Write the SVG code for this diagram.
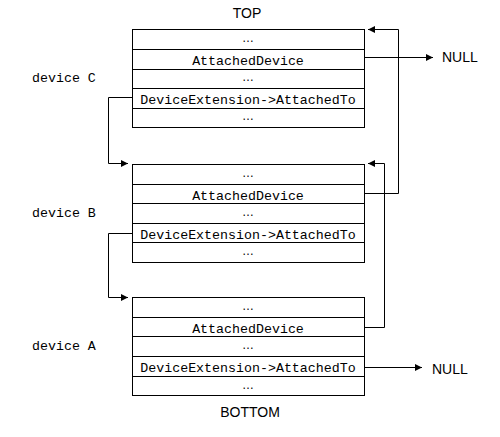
<svg xmlns="http://www.w3.org/2000/svg" width="500" height="437" viewBox="0 0 500 437">
<defs>
<marker id="ah" viewBox="0 0 10 10" refX="10" refY="5" markerWidth="9" markerHeight="7" markerUnits="userSpaceOnUse" orient="auto">
<path d="M0,0 L10,5 L0,10 z" fill="#000"/>
</marker>
</defs>
<style>
.box{fill:#fff;stroke:#000;stroke-width:1}
.row{stroke:#000;stroke-width:1}
.mono{font-family:"Liberation Mono","DejaVu Sans Mono",monospace;font-size:13.3px;fill:#000}
.ctr{text-anchor:middle}
.sans{font-family:"Liberation Sans",Arial,sans-serif;font-size:14px;fill:#000}
.dots{font-family:"Liberation Sans",Arial,sans-serif;font-size:12px;fill:#000;text-anchor:middle}
.con{fill:none;stroke:#000;stroke-width:1}
</style>
<rect width="500" height="437" fill="#fff"/>
<text class="sans ctr" x="247" y="18">TOP</text>
<text class="sans ctr" x="250" y="417">BOTTOM</text>

<g id="deviceC">
<rect class="box" x="132.5" y="29.5" width="232" height="98"/>
<line class="row" x1="132.5" y1="49.5" x2="364.5" y2="49.5"/>
<line class="row" x1="132.5" y1="69.5" x2="364.5" y2="69.5"/>
<line class="row" x1="132.5" y1="88.5" x2="364.5" y2="88.5"/>
<line class="row" x1="132.5" y1="108.5" x2="364.5" y2="108.5"/>
<text class="dots" x="248" y="42">…</text>
<text class="mono ctr" x="248" y="65">AttachedDevice</text>
<text class="dots" x="248" y="81">…</text>
<text class="mono ctr" x="248" y="104">DeviceExtension-&gt;AttachedTo</text>
<text class="dots" x="248" y="120">…</text>
<text class="mono" x="32" y="82">device C</text>
</g>

<g id="deviceB">
<rect class="box" x="132.5" y="164.5" width="232" height="98"/>
<line class="row" x1="132.5" y1="184.5" x2="364.5" y2="184.5"/>
<line class="row" x1="132.5" y1="203.5" x2="364.5" y2="203.5"/>
<line class="row" x1="132.5" y1="223.5" x2="364.5" y2="223.5"/>
<line class="row" x1="132.5" y1="242.5" x2="364.5" y2="242.5"/>
<text class="dots" x="248" y="177">…</text>
<text class="mono ctr" x="248" y="200">AttachedDevice</text>
<text class="dots" x="248" y="216">…</text>
<text class="mono ctr" x="248" y="239">DeviceExtension-&gt;AttachedTo</text>
<text class="dots" x="248" y="255">…</text>
<text class="mono" x="32" y="217">device B</text>
</g>

<g id="deviceA">
<rect class="box" x="132.5" y="297.5" width="232" height="98"/>
<line class="row" x1="132.5" y1="317.5" x2="364.5" y2="317.5"/>
<line class="row" x1="132.5" y1="336.5" x2="364.5" y2="336.5"/>
<line class="row" x1="132.5" y1="356.5" x2="364.5" y2="356.5"/>
<line class="row" x1="132.5" y1="376.5" x2="364.5" y2="376.5"/>
<text class="dots" x="248" y="310">…</text>
<text class="mono ctr" x="248" y="333">AttachedDevice</text>
<text class="dots" x="248" y="349">…</text>
<text class="mono ctr" x="248" y="372">DeviceExtension-&gt;AttachedTo</text>
<text class="dots" x="248" y="389">…</text>
<text class="mono" x="32" y="350">device A</text>
</g>

<g id="connectors">
<path class="con" d="M364.5,57.5 H433" marker-end="url(#ah)"/>
<text class="sans" x="442" y="62">NULL</text>
<path class="con" d="M364.5,193.5 H398.5 V29.5 H368" marker-end="url(#ah)"/>
<path class="con" d="M364.5,327.5 H384.5 V163.5 H368" marker-end="url(#ah)"/>
<path class="con" d="M132.5,97.5 H108.5 V163.5 H128" marker-end="url(#ah)"/>
<path class="con" d="M132.5,233.5 H108.5 V297.5 H128" marker-end="url(#ah)"/>
<path class="con" d="M364.5,367.5 H422" marker-end="url(#ah)"/>
<text class="sans" x="432" y="374">NULL</text>
</g>
</svg>
